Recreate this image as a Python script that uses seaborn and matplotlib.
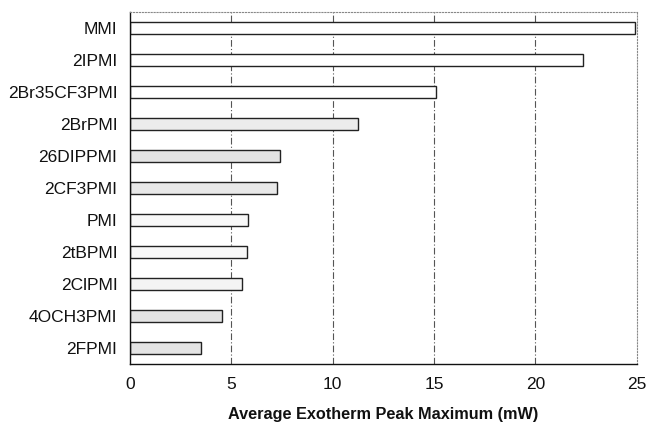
import matplotlib
matplotlib.use("Agg")
import matplotlib.pyplot as plt
import seaborn as sns
import pandas as pd

categories = ["MMI", "2IPMI", "2Br35CF3PMI", "2BrPMI", "26DIPPMI", "2CF3PMI",
              "PMI", "2tBPMI", "2ClPMI", "4OCH3PMI", "2FPMI"]
values = [24.9, 22.35, 15.1, 11.25, 7.4, 7.25, 5.8, 5.75, 5.55, 4.55, 3.5]
fills = ["#ffffff", "#ffffff", "#ffffff", "#ececec", "#e4e4e4", "#e8e8e8",
         "#f8f8f8", "#f8f8f8", "#f4f4f4", "#e4e4e4", "#e4e4e4"]
xticks = [0, 5, 10, 15, 20, 25]

sns.set_theme(style="white")
plt.rcParams['font.family'] = ['Liberation Sans', 'DejaVu Sans']

df = pd.DataFrame({"cat": categories, "val": values})

fig = plt.figure(figsize=(6.49, 4.22), dpi=100)
ax = fig.add_axes([0.2003, 0.1374, 0.7807, 0.8342])

sns.barplot(data=df, x="val", y="cat", orient="h", ax=ax, width=0.4,
            palette=fills, hue="cat", legend=False,
            edgecolor="#222222", linewidth=1.0)

ax.set_xlim(0, 25)
ax.set_xticks(xticks)
ax.set_xticklabels([str(t) for t in xticks], fontsize=12.5, color="#111111")
ax.set_ylim(len(categories) - 0.5, -0.5)
ax.tick_params(axis='y', labelsize=12.5, length=0, pad=9, labelcolor="#111111")
ax.tick_params(axis='x', length=0, pad=9)
ax.set_ylabel("")
ax.set_xlabel("Average Exotherm Peak Maximum (mW)", fontsize=11.7,
              fontweight="bold", labelpad=11, color="#111111")

for t in xticks[1:-1]:
    ax.axvline(t, color="#555555", linewidth=0.8, linestyle=(0, (6, 2, 1, 2)), zorder=0)

for s in ["left", "bottom"]:
    ax.spines[s].set_color("#111111")
    ax.spines[s].set_linewidth(1.0)
for s in ["top", "right"]:
    ax.spines[s].set_color("#888888")
    ax.spines[s].set_linewidth(0.8)
    ax.spines[s].set_linestyle(":")

fig.savefig("out.png", dpi=100)
